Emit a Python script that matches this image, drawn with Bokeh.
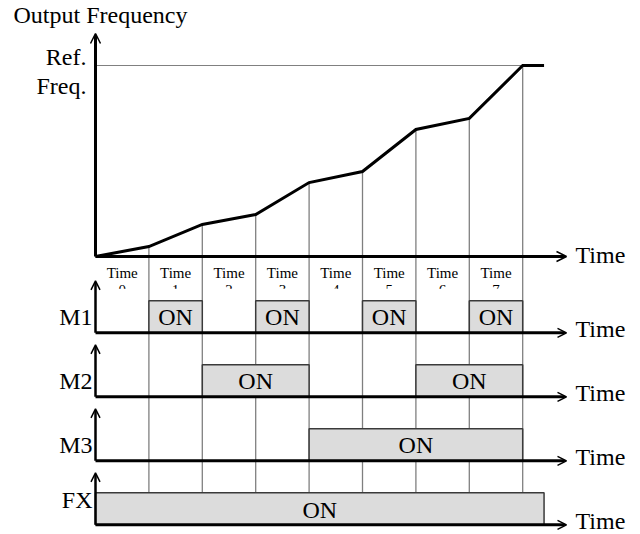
from bokeh.plotting import figure
from bokeh.models import Range1d, Arrow, OpenHead
from bokeh.core.properties import value
from bokeh.embed import file_html
from bokeh.resources import INLINE

# ---------------- data ----------------
times = [0, 1, 2, 3, 4, 5, 6, 7, 8]
freq = [0, 5.2, 16.8, 22.0, 38.7, 44.5, 66.5, 72.3, 100]   # % of Ref. Freq.
hold_end = 8.4
ref_freq = 100
time_labels = ["Time", "Time", "Time", "Time", "Time", "Time", "Time", "Time"]
time_nums = ["0", "1", "2", "3", "4", "5", "6", "7"]
rows = ["FX", "M3", "M2", "M1"]          # bottom to top
on_starts = {"M1": [1, 3, 5, 7], "M2": [2, 6], "M3": [4], "FX": [0]}
on_ends = {"M1": [2, 4, 6, 8], "M2": [4, 8], "M3": [8], "FX": [8.4]}

# ---------------- layout helpers (screen px -> data) ----------------
W, H = 640, 534
PX0, PXT = 95.0, 53.4
def X(px): return (px - PX0) / PXT
def RY(py): return (524.3 - py) / 64.0
def FY(py): return (256.0 - py) / 1.91

FONT = value("Liberation Serif")
BIG = "24px"
TXT = dict(text_font=FONT, text_color="black", text_baseline="middle")
TU = 1.0 / 64   # one pixel in row units

p = figure(width=W, height=H, x_range=Range1d(X(0), X(W)),
           y_range=Range1d(RY(H), RY(0)), x_axis_type=None, y_axis_type=None,
           output_backend="svg", toolbar_location=None, min_border=0)
p.extra_y_ranges = {"freq": Range1d(FY(H), FY(0))}
p.grid.visible = False
p.outline_line_color = None
p.background_fill_color = "white"

# small "Time n" labels (second line clipped)
mids = [t + 0.5 for t in times[:-1]]
p.text(x=mids, y=[RY(272.0)] * 8, text=time_labels, text_font_size="15px",
       text_align="center", **TXT)
p.text(x=mids, y=[RY(289.2)] * 8, text=time_nums, text_font_size="15px",
       text_align="center", **TXT)
p.quad(left=[m - 0.45 for m in mids], right=[m + 0.45 for m in mids],
       bottom=[RY(299.5)] * 8, top=[RY(288.3)] * 8, fill_color="white", line_color=None)

# dotted guide lines
p.segment(x0=times[1:], y0=freq[1:], x1=times[1:], y1=[FY(493.3)] * 8,
          y_range_name="freq", line_color="black", line_width=1.3, line_dash="1 1")
p.segment(x0=[0], y0=[ref_freq], x1=[times[-1]], y1=[ref_freq], y_range_name="freq",
          line_color="black", line_width=1.1, line_dash="1 1")

# ON boxes
for k, r in enumerate(rows):
    s, e = on_starts[r], on_ends[r]
    p.quad(left=s, right=e, bottom=[k] * len(s), top=[k + 0.5] * len(s),
           fill_color="#dcdcdc", line_color="#3a3a3a", line_width=1.5)
    on_dy = (14.8 if r == "FX" else 16.0) * TU
    p.text(x=[(a + b) / 2 for a, b in zip(s, e)], y=[k + on_dy] * len(s),
           text=["ON"] * len(s), text_font_size=BIG, text_align="center", **TXT)
    ly = k + (24.5 if r == "FX" else 16.2) * TU
    p.text(x=[X(92)], y=[ly], text=[r], text_font_size=BIG, text_align="right", **TXT)
    p.text(x=[X(575)], y=[k + 3.5 * TU], text=["Time"], text_font_size=BIG,
           text_align="left", **TXT)
    p.add_layout(Arrow(end=OpenHead(size=9, line_width=1.5), x_start=0, y_start=k,
                       x_end=X(566), y_end=k, line_width=3, line_color="black"))
    p.add_layout(Arrow(end=OpenHead(size=9, line_width=1.5), x_start=0, y_start=k,
                       x_end=0, y_end=k + 52 * TU, line_width=2.5, line_color="black"))

# frequency curve
p.line(x=times + [hold_end], y=freq + [ref_freq], y_range_name="freq",
       line_color="black", line_width=3, line_join="miter")
p.add_layout(Arrow(end=OpenHead(size=10, line_width=1.5), x_start=0, y_start=0,
                   x_end=X(566), y_end=0, y_range_name="freq", line_width=3, line_color="black"))
p.add_layout(Arrow(end=OpenHead(size=10, line_width=1.5), x_start=0, y_start=0,
                   x_end=0, y_end=FY(33), y_range_name="freq", line_width=3, line_color="black"))

p.text(x=[X(575)], y=[FY(254.3)], text=["Time"], y_range_name="freq",
       text_font_size=BIG, text_align="left", **TXT)
p.text(x=[X(13)], y=[FY(14.0)], text=["Output Frequency"], y_range_name="freq",
       text_font_size=BIG, text_align="left", **TXT)
p.text(x=[X(86)] * 2, y=[FY(56.7), FY(85.3)], text=["Ref.", "Freq."], y_range_name="freq",
       text_font_size=BIG, text_align="right", **TXT)

open("out.html", "w").write(file_html(p, INLINE))
